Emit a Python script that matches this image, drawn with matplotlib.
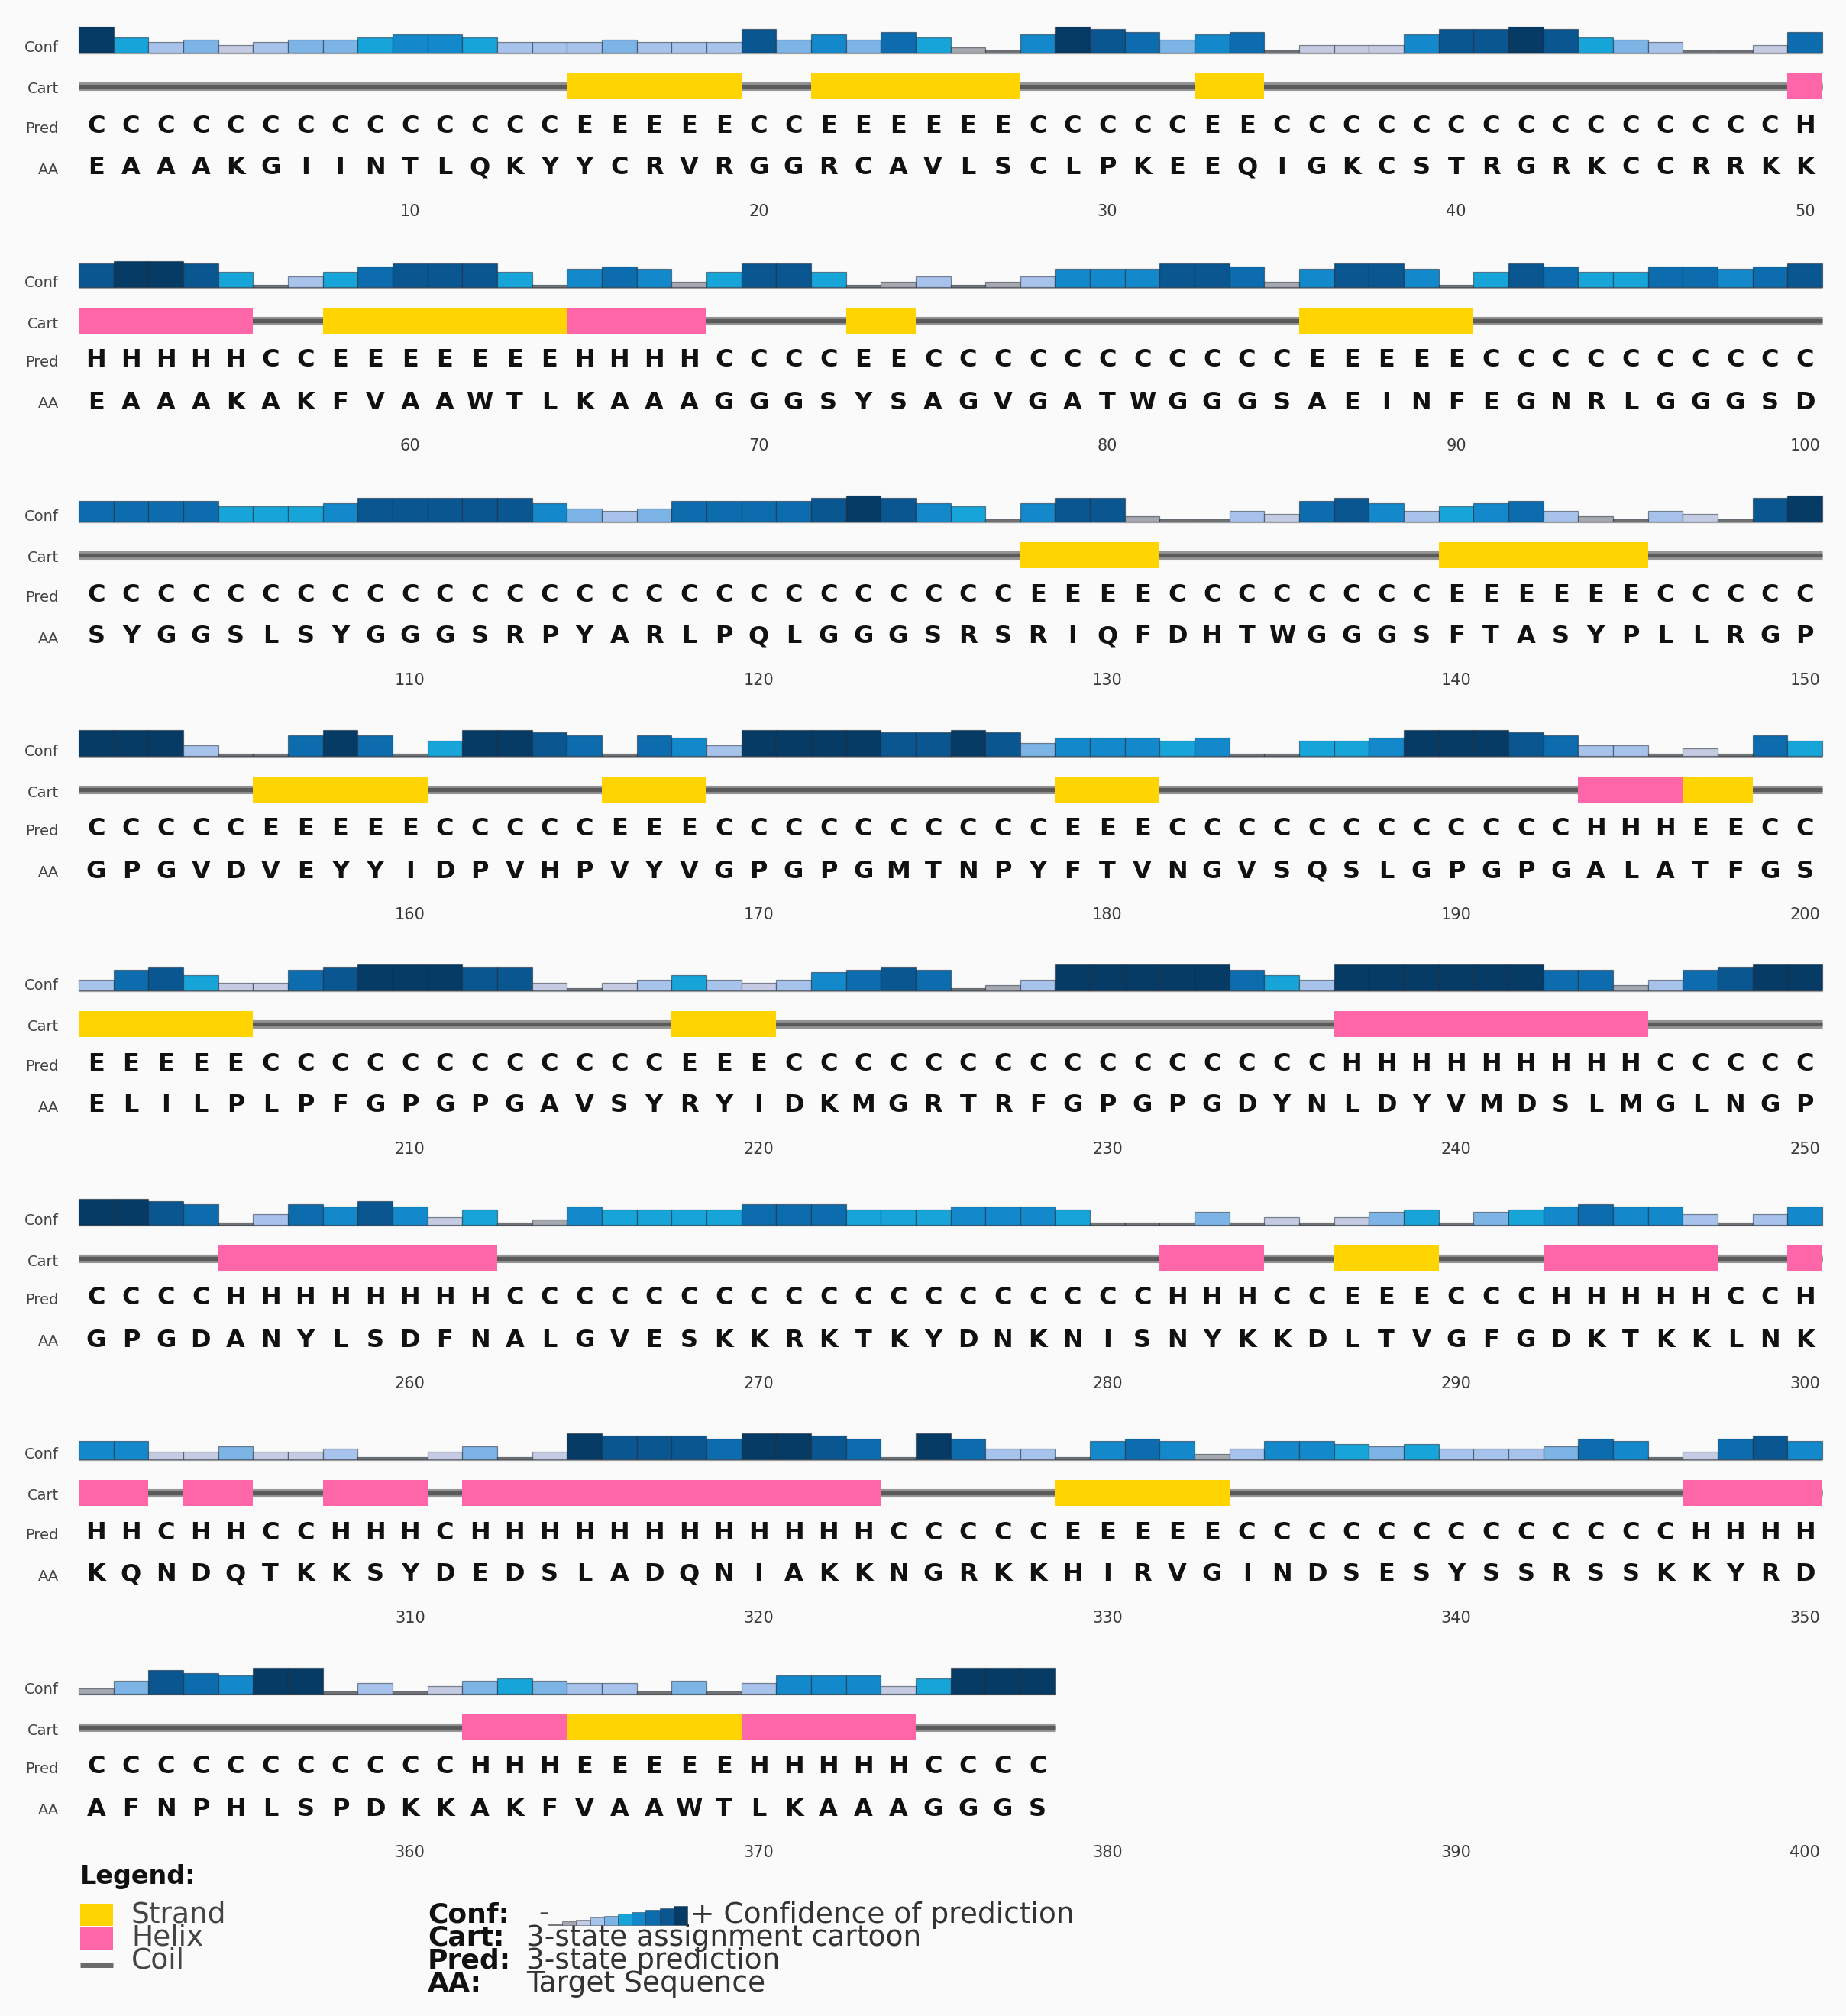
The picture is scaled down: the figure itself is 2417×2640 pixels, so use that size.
import matplotlib
matplotlib.use("Agg")
import matplotlib.pyplot as plt
from matplotlib.patches import Rectangle
import numpy as np

# ------------------------------------------------------------------ data
AA_SEQ = ("EAAAKGIINTLQKYYCRVRGGRCAVLSCLPKEEQIGKCSTRGRKCCRRKK"
          "EAAAKAKFVAAWTLKAAAGGGSYSAGVGATWGGGSAEINFEGNRLGGGSD"
          "SYGGSLSYGGGSRPYARLPQLGGGSRSRIQFDHTWGGGSFTASYPLLRGP"
          "GPGVDVEYYIDPVHPVYVGPGPGMTNPYFTVNGVSQSLGPGPGALATFGS"
          "ELILPLPFGPGPGAVSYRYIDKMGRTRFGPGPGDYNLDYVMDSLMGLNGP"
          "GPGDANYLSDFNALGVESKKRKTKYDNKNISNYKKDLTVGFGDKTKKLNK"
          "KQNDQTKKSYDEDSLADQNIAKKNGRKKHIRVGINDSESYSSRSSKKYRD"
          "AFNPHLSPDKKAKFVAAWTLKAAAGGGS")

PRED_SEQ = ("CCCCCCCCCC" "CCCCEEEEEC" "CEEEEEECCC" "CCEECCCCCC" "CCCCCCCCCH"
            "HHHHHCCEEE" "EEEEHHHHCC" "CCEECCCCCC" "CCCCCEEEEE" "CCCCCCCCCC"
            "CCCCCCCCCC" "CCCCCCCCCC" "CCCCCCCEEE" "ECCCCCCCCE" "EEEEECCCCC"
            "CCCCCEEEEE" "CCCCCEEECC" "CCCCCCCCEE" "ECCCCCCCCC" "CCCHHHEECC"
            "EEEEECCCCC" "CCCCCCCEEE" "CCCCCCCCCC" "CCCCCCHHHH" "HHHHHCCCCC"
            "CCCCHHHHHH" "HHCCCCCCCC" "CCCCCCCCCC" "CHHHCCEEEC" "CCHHHHHCCH"
            "HHCHHCCHHH" "CHHHHHHHHH" "HHHCCCCCEE" "EEECCCCCCC" "CCCCCCHHHH"
            "CCCCCCCCCC" "CHHHEEEEEH" "HHHHCCCC")

CONF_1_50 = [9, 5, 3, 4, 2, 3, 4, 4, 5, 6, 6, 5, 3, 3, 3, 4, 3, 3, 3, 8,
             4, 6, 4, 7, 5, 1, 0, 6, 9, 8, 7, 4, 6, 7, 0, 2, 2, 2, 6, 8,
             8, 9, 8, 5, 4, 3, 0, 0, 2, 7]
CONF_51_100 = [8, 9, 9, 8, 5, 0, 3, 5, 7, 8, 8, 8, 5, 0, 6, 7, 6, 1, 5, 8,
               8, 5, 0, 1, 3, 0, 1, 3, 6, 6, 6, 8, 8, 7, 1, 6, 8, 8, 6, 0,
               5, 8, 7, 5, 5, 7, 7, 6, 7, 8]
CONF_101_150 = [7, 7, 7, 7, 5, 5, 5, 6, 8, 8, 8, 8, 8, 6, 4, 3, 4, 7, 7, 7,
                7, 8, 9, 8, 6, 5, 0, 6, 8, 8, 1, 0, 0, 3, 2, 7, 8, 6, 3, 5,
                6, 7, 3, 1, 0, 3, 2, 0, 8, 9]
CONF_151_200 = [9, 9, 9, 3, 0, 0, 7, 9, 7, 0, 5, 9, 9, 8, 7, 0, 7, 6, 3, 9,
                9, 9, 9, 8, 8, 9, 8, 4, 6, 6, 6, 5, 6, 0, 0, 5, 5, 6, 9, 9,
                9, 8, 7, 3, 3, 0, 2, 0, 7, 5]
CONF_201_250 = [3, 7, 8, 5, 2, 2, 7, 8, 9, 9, 9, 8, 8, 2, 0, 2, 3, 5, 3, 2,
                3, 6, 7, 8, 7, 0, 1, 3, 9, 9, 9, 9, 9, 7, 5, 3, 9, 9, 9, 9,
                9, 9, 7, 7, 1, 3, 7, 8, 9, 9]
CONF_251_300 = [9, 9, 8, 7, 0, 3, 7, 6, 8, 6, 2, 5, 0, 1, 6, 5, 5, 5, 5, 7,
                7, 7, 5, 5, 5, 6, 6, 6, 5, 0, 0, 0, 4, 0, 2, 0, 2, 4, 5, 0,
                4, 5, 6, 7, 6, 6, 3, 0, 3, 6]
CONF_301_350 = [6, 6, 2, 2, 4, 2, 2, 3, 0, 0, 2, 4, 0, 2, 9, 8, 8, 8, 7, 9,
                9, 8, 7, 0, 9, 7, 3, 3, 0, 6, 7, 6, 1, 3, 6, 6, 5, 4, 5, 3,
                3, 3, 4, 7, 6, 0, 2, 7, 8, 6]
CONF_351_378 = [1, 4, 8, 7, 6, 9, 9, 0, 3, 0, 2, 4, 5, 4, 3, 3, 0, 4, 0, 3,
                6, 6, 6, 2, 5, 9, 9, 9]

CONF = (CONF_1_50 + CONF_51_100 + CONF_101_150 + CONF_151_200 + CONF_201_250
        + CONF_251_300 + CONF_301_350 + CONF_351_378)

ROW_LABELS = ["Conf", "Cart", "Pred", "AA"]
LEGEND_SS = ["Strand", "Helix", "Coil"]
LEGEND_KEYS = ["Conf:", "Cart:", "Pred:", "AA:"]
LEGEND_DESC = ["Confidence of prediction", "3-state assignment cartoon",
               "3-state prediction", "Target Sequence"]

# ------------------------------------------------------------------ style / layout
FIG_W, FIG_H = 2417, 2640
BG = "#fafafa"
PER_ROW = 50
RES_W = 45.66          # px per residue
LEFT_PX = 103          # left edge of residue 1
TOP = 20
STEP = 307
CONF_BASE = 49
CONF_H = 34
CART_Y = 93
CART_HALF = 17
PRED_Y = 145
AA_Y = 200
NUM_Y = 257
LABEL_Y = [43, 97, 148, 202]

STRAND = "#ffd400"
HELIX = "#ff66a8"
PAL = ["#787878", "#a6a8b0", "#c4cbe2", "#a8c3eb", "#7db4e6",
       "#17a5d9", "#1389cb", "#0d6cae", "#0a5690", "#063b66"]

N = len(AA_SEQ)
n_rows = (N + PER_ROW - 1) // PER_ROW
X_LEFT = 0.5 - LEFT_PX / RES_W


def px_x(px):
    return X_LEFT + px / RES_W


fig = plt.figure(figsize=(FIG_W / 100, FIG_H / 100), dpi=100, facecolor=BG)
ax = fig.add_axes([0, 0, 1, 1])
ax.set_xlim(X_LEFT, X_LEFT + FIG_W / RES_W)
ax.set_ylim(FIG_H, 0)
ax.axis("off")
ax.set_facecolor(BG)


def runs(seq):
    out = []
    start = 0
    for i in range(1, len(seq) + 1):
        if i == len(seq) or seq[i] != seq[start]:
            out.append((seq[start], start, i - start))
            start = i
    return out


for r in range(n_rows):
    s = r * PER_ROW
    e = min(s + PER_ROW, N)
    n = e - s
    y0 = TOP + r * STEP
    j = np.arange(1, n + 1)

    # confidence bars
    conf = CONF[s:e]
    base = y0 + CONF_BASE
    ax.plot([0.5, n + 0.5], [base, base], color="#a8a8a8", lw=2.4,
            solid_capstyle="butt", zorder=1)
    heights = [-(c + 1) / 10 * CONF_H for c in conf]
    ax.bar(j, heights, bottom=base, width=1.0,
           color=[PAL[c] for c in conf],
           edgecolor=(0.08, 0.12, 0.18, 0.5), linewidth=0.9, zorder=2)

    # cartoon
    cy = y0 + CART_Y
    ax.plot([0.5, n + 0.5], [cy, cy], color="#959595", lw=8,
            solid_capstyle="butt", zorder=1)
    ax.plot([0.5, n + 0.5], [cy, cy], color="#5a5a5a", lw=3.8,
            solid_capstyle="butt", zorder=1)
    for st, start, length in runs(PRED_SEQ[s:e]):
        if st == "C":
            continue
        ax.add_patch(Rectangle((start + 0.5, cy - CART_HALF), length,
                               2 * CART_HALF,
                               facecolor=STRAND if st == "E" else HELIX,
                               edgecolor="none", zorder=3))

    # letters
    for k in range(n):
        ax.text(k + 1, y0 + PRED_Y, PRED_SEQ[s + k], ha="center", va="center",
                fontsize=23, fontweight="bold", color="#111111")
        ax.text(k + 1, y0 + AA_Y, AA_SEQ[s + k], ha="center", va="center",
                fontsize=23, fontweight="bold", color="#111111")

    # position numbers
    for m in range(1, 6):
        ax.text(10 * m, y0 + NUM_Y, str(s + 10 * m), ha="center", va="center",
                fontsize=15, color="#3a3a3a")

    # row labels
    for lab, ly in zip(ROW_LABELS, LABEL_Y):
        ax.text(px_x(77), y0 + ly, lab, ha="right", va="center",
                fontsize=14, color="#444444")

# ------------------------------------------------------------------ legend
lg = fig.add_axes([0, 0, 1, 1])
lg.set_xlim(0, FIG_W)
lg.set_ylim(FIG_H, 0)
lg.axis("off")
lg.patch.set_alpha(0)

lg.text(105, 2457, "Legend:", ha="left", va="center", fontsize=24,
        fontweight="bold", color="#111111")

ss_y = [2508, 2538, 2568]
lg.add_patch(Rectangle((105, 2493), 43, 29, facecolor=STRAND, edgecolor="none"))
lg.add_patch(Rectangle((105, 2523), 43, 30, facecolor=HELIX, edgecolor="none"))
lg.plot([105, 148], [2573, 2573], color="#6a6a6a", lw=5, solid_capstyle="butt")
for lab, yy in zip(LEGEND_SS, ss_y):
    lg.text(172, yy, lab, ha="left", va="center", fontsize=27, color="#444444")

key_y = [2508, 2538, 2568, 2598]
for key, yy in zip(LEGEND_KEYS, key_y):
    lg.text(560, yy, key, ha="left", va="center", fontsize=26,
            fontweight="bold", color="#111111")
lg.text(705, 2505, "-", ha="left", va="center", fontsize=26, color="#444444")
lvl = np.arange(10)
lg.bar(718 + 18.2 * lvl + 9.1, -(lvl + 1) / 10 * 25, bottom=2521, width=18.2,
       color=PAL, edgecolor=(0.08, 0.12, 0.18, 0.5), linewidth=0.6)
lg.text(904, key_y[0], "+ " + LEGEND_DESC[0], ha="left", va="center",
        fontsize=27, color="#333333")
for desc, yy in zip(LEGEND_DESC[1:], key_y[1:]):
    lg.text(689, yy, desc, ha="left", va="center", fontsize=27, color="#333333")

fig.savefig("out.png", dpi=100, facecolor=BG)
